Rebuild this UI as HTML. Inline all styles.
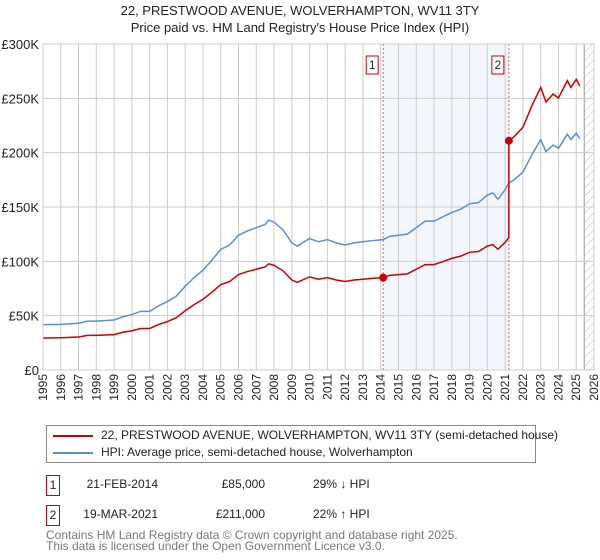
<!DOCTYPE html>
<html><head><meta charset="utf-8">
<style>
body{margin:0;background:#fff;font-family:"Liberation Sans","DejaVu Sans",sans-serif;}
#wrap{position:relative;width:600px;height:560px;overflow:hidden}
</style></head>
<body>
<div id="wrap">
<svg id="chart" width="600" height="560" style="position:absolute;left:0;top:0">
<defs>
<pattern id="hatch" width="6" height="6" patternUnits="userSpaceOnUse" patternTransform="rotate(45)">
<line x1="0" y1="0" x2="0" y2="6" stroke="#bbb" stroke-width="1"/>
</pattern>
</defs>
<text x="300" y="15" text-anchor="middle" font-size="13" fill="#222">22, PRESTWOOD AVENUE, WOLVERHAMPTON, WV11 3TY</text>
<text x="300" y="32" text-anchor="middle" font-size="13" fill="#222">Price paid vs. HM Land Registry's House Price Index (HPI)</text>
<g id="plot"></g>
</svg>
<div style="position:absolute;left:46px;top:425px;width:488px;height:36px;border:1px solid #888;font-size:12px;color:#222">
 <div style="position:absolute;left:6px;top:9px;width:40px;height:2px;background:#cc0000"></div>
 <div style="position:absolute;left:54px;top:2px;white-space:nowrap">22, PRESTWOOD AVENUE, WOLVERHAMPTON, WV11 3TY (semi-detached house)</div>
 <div style="position:absolute;left:6px;top:26px;width:40px;height:2px;background:#5b8fd4"></div>
 <div style="position:absolute;left:54px;top:19px;white-space:nowrap">HPI: Average price, semi-detached house, Wolverhampton</div>
</div>
<div style="font-size:12px;color:#222">
 <div style="position:absolute;left:46px;top:475px;width:12px;height:19px;border:1px solid #cc0000;text-align:center;line-height:19px">1</div>
 <div style="position:absolute;left:70px;top:477px;width:88px;text-align:right">21-FEB-2014</div>
 <div style="position:absolute;left:180px;top:477px;width:85px;text-align:right">£85,000</div>
 <div style="position:absolute;left:313px;top:477px">29% ↓ HPI</div>
 <div style="position:absolute;left:46px;top:505px;width:12px;height:19px;border:1px solid #cc0000;text-align:center;line-height:19px">2</div>
 <div style="position:absolute;left:70px;top:507px;width:88px;text-align:right">19-MAR-2021</div>
 <div style="position:absolute;left:180px;top:507px;width:85px;text-align:right">£211,000</div>
 <div style="position:absolute;left:313px;top:507px">22% ↑ HPI</div>
</div>
<div style="position:absolute;left:46px;top:530px;font-size:12px;line-height:11px;color:#777">Contains HM Land Registry data © Crown copyright and database right 2025.<br>This data is licensed under the Open Government Licence v3.0.</div>
</div>
<script>
const hpiYears=[1995,1996,1997,1997.5,1998,1999,1999.5,2000,2000.5,2001,2001.5,2002,2002.5,2003,2003.5,2004,2004.5,2005,2005.5,2006,2006.5,2007,2007.5,2007.7,2008,2008.5,2009,2009.3,2010,2010.5,2011,2011.5,2012,2012.5,2013,2013.5,2014.14,2014.5,2015,2015.5,2016,2016.5,2017,2017.5,2018,2018.5,2019,2019.5,2020,2020.3,2020.6,2021,2021.21,2021.5,2022,2022.5,2023,2023.3,2023.7,2024,2024.5,2024.7,2025,2025.2];
const hpiValues=[41.7,42,43,45,45,46,49,51,54,54,59,63,68,77,85,92,101,111,115,124,128,131,134,138,136,129,117,114,121,118,120,117,115,117,118,119,120,123,124,125,131,137,137,141,145,148,153,154,161,163,157,166,172,175,182,198,212,201,207,204,217,212,218,213];
const priceYears=[1995,1996,1997,1997.5,1998,1999,1999.5,2000,2000.5,2001,2001.5,2002,2002.5,2003,2003.5,2004,2004.5,2005,2005.5,2006,2006.5,2007,2007.5,2007.7,2008,2008.5,2009,2009.3,2010,2010.5,2011,2011.5,2012,2012.5,2013,2013.5,2014.14,2014.5,2015,2015.5,2016,2016.5,2017,2017.5,2018,2018.5,2019,2019.5,2020,2020.3,2020.6,2021,2021.21,2021.21,2021.5,2022,2022.5,2023,2023.3,2023.7,2024,2024.5,2024.7,2025,2025.2];
const priceValues=[29.5,29.7,30.4,31.9,31.9,32.6,34.7,36.1,38.2,38.2,41.8,44.6,48.1,54.5,60.2,65.1,71.5,78.6,81.4,87.8,90.6,92.7,94.9,97.7,96.3,91.3,82.8,80.7,85.7,83.5,85,82.8,81.4,82.8,83.5,84.3,85,87.1,87.8,88.5,92.7,97,97,99.8,102.7,104.8,108.3,109,114,115.4,111.2,117.5,121.8,211,214.7,223.3,243,260,246.6,254,250.3,266.3,260.1,267.5,261.4];
const saleYears=[2014.14,2021.21];
const saleValues=[85,211];
const saleLabels=["1","2"];
const yTicks=[0,50,100,150,200,250,300];
const yTickLabels=["£0","£50K","£100K","£150K","£200K","£250K","£300K"];
const xTicks=[1995,1996,1997,1998,1999,2000,2001,2002,2003,2004,2005,2006,2007,2008,2009,2010,2011,2012,2013,2014,2015,2016,2017,2018,2019,2020,2021,2022,2023,2024,2025,2026];

const X0=43,X1=594,Y0=370,Y1=44;
const xs=y=>X0+(y-1995)/(2026-1995)*(X1-X0);
const ys=v=>Y0-v/300*(Y0-Y1);
const NS="http://www.w3.org/2000/svg";
const g=document.getElementById('plot');
function mk(tag,attrs,parent){const e=document.createElementNS(NS,tag);for(const k in attrs)e.setAttribute(k,attrs[k]);(parent||g).appendChild(e);return e;}

let r=mk('rect',{x:xs(saleYears[0]),y:Y1,width:xs(saleYears[1])-xs(saleYears[0]),height:Y0-Y1,fill:'#eef3fc',opacity:0.7});


const hatchStart=2025.45;
r=mk('rect',{x:xs(hatchStart),y:Y1,width:X1-xs(hatchStart),height:Y0-Y1,fill:'url(#hatch)'});


let l=mk('line',{x1:xs(hatchStart),x2:xs(hatchStart),y1:Y1,y2:Y0,stroke:'#999','stroke-width':1});



xTicks.forEach(t=>{
 const ln=mk('line',{x1:xs(t),x2:xs(t),y1:Y1,y2:Y0,stroke:'#ccc','stroke-width':1});
 
 
 const tx=mk('text',{x:0,y:0,transform:`translate(${xs(t)+4},374) rotate(-90)`,'text-anchor':'end','font-size':12,fill:'#222'});
 tx.textContent=t;
 
 
});
yTicks.forEach((t,i)=>{
 const ln=mk('line',{x1:X0,x2:X1,y1:ys(t),y2:ys(t),stroke:'#ccc','stroke-width':1});
 
 
 const tx=mk('text',{x:39,y:ys(t)+5,'text-anchor':'end','font-size':13,fill:'#222'});
 tx.textContent=yTickLabels[i];
 
 
});
saleYears.forEach((s,i)=>{
 const ln=mk('line',{x1:xs(s),x2:xs(s),y1:Y1,y2:Y0,stroke:'#e06060','stroke-width':1,'stroke-dasharray':'2,2'});
 
 
 const bx=mk('rect',{x:xs(s)-17,y:56,width:12,height:18,fill:'#fff',stroke:'#cc0000'});
 
 
 const tx=mk('text',{x:xs(s)-11,y:69,'text-anchor':'middle','font-size':12,fill:'#222'});
 tx.textContent=saleLabels[i];
 
 
});
let p=mk('polyline',{points:hpiYears.map((y,i)=>xs(y)+','+ys(hpiValues[i])).join(' '),fill:'none',stroke:'#5b8fd4','stroke-width':1.5});


p=mk('polyline',{points:priceYears.map((y,i)=>xs(y)+','+ys(priceValues[i])).join(' '),fill:'none',stroke:'#cc0000','stroke-width':1.5});


saleYears.forEach((s,i)=>{
 const c=mk('circle',{cx:xs(s),cy:ys(saleValues[i]),r:4,fill:'#cc0000'});
 
 
});
let b=mk('rect',{x:X0,y:Y1,width:X1-X0,height:Y0-Y1,fill:'none',stroke:'#ccc'});


</script>
</body></html>
